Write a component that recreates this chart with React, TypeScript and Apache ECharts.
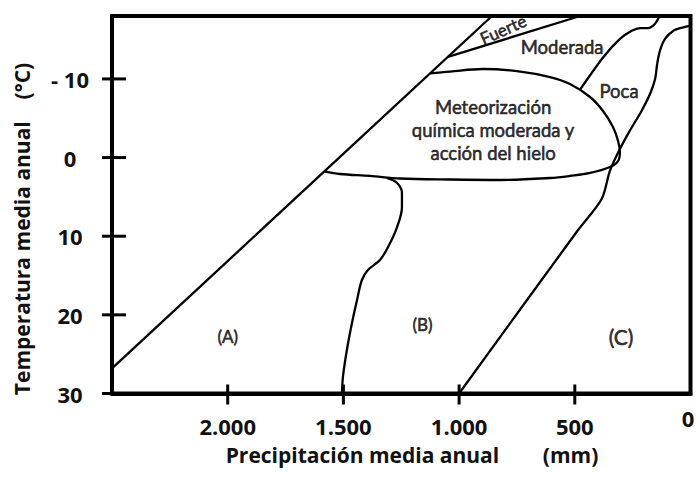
import React, { useEffect, useRef } from "react";
import * as echarts from "echarts";

// ---- Data (precipitation mm, temperature °C) ----
const xMin = 0;
const xMax = 2500;
const yMin = -18;
const yMax = 30;
const xTickValues = [2000, 1500, 1000, 500, 0];
const xTickLabels = ["2.000", "1.500", "1.000", "500", "0"];
const xTickMarks = [2000, 1500, 1000, 500];
const yTickValues = [-10, 0, 10, 20, 30];
const yTickLabels = ["- 10", "0", "10", "20", "30"];

const diagonalLine = [
  [2500, 26.8],
  [858, -18],
];
const fuerteLine = [
  [1048, -12.8],
  [477, -18],
];
const loopCurve = [
  [1126, -10.7],
  [1039, -10.94],
  [897, -11.26],
  [750, -11.0],
  [607, -10.24],
  [521, -9.35],
  [434, -7.7],
  [378, -5.92],
  [335, -3.89],
  [313, -2.11],
  [305, -0.71],
  [313, 0.44],
  [348, 1.2],
  [434, 1.96],
  [521, 2.34],
  [607, 2.6],
  [823, 2.85],
  [1039, 2.79],
  [1255, 2.66],
  [1385, 2.34],
  [1515, 2.09],
  [1580, 1.8],
];
const bCurve = [
  [1312, 2.6],
  [1268, 3.23],
  [1247, 4.5],
  [1247, 6.28],
  [1268, 8.83],
  [1307, 11.37],
  [1342, 13.02],
  [1394, 14.3],
  [1420, 15.57],
  [1441, 18.1],
  [1463, 21.03],
  [1485, 24.47],
  [1502, 27.9],
  [1506, 30],
];
const cCurve = [
  [1000, 30],
  [486, 9.21],
  [384, 5.27],
  [348, 1.67],
  [305, -1.09],
  [262, -3.42],
  [211, -5.96],
  [175, -8.08],
  [153, -9.99],
  [144, -11.9],
  [132, -13.59],
  [110, -15.08],
  [74, -16.13],
  [31, -16.56],
  [0, -16.77],
];
const moderadaPocaCurve = [
  [478, -8.6],
  [377, -12.75],
  [305, -15.08],
  [254, -16.13],
  [218, -16.47],
  [182, -16.47],
  [161, -16.77],
  [144, -17.4],
  [135, -18],
];

const regionNames = [
  "Fuerte",
  "Moderada",
  "Poca",
  "Meteorización\nquímica moderada y\nacción del hielo",
  "(A)",
  "(B)",
  "(C)",
];
const regionX = [810, 555, 309, 853, 2000, 1158, 300];
const regionY = [-16.3, -14.0, -8.5, -3.5, 22.7, 21.2, 22.8];

const xTitle = "Precipitación media anual        (mm)";
const yTitle = "Temperatura media anual    (°C)";

const AXIS_FONT = "Open Sans";
const LABEL_FONT = "Lato";
const INK = "#111";
const W = 697;
const H = 477;

const regionStyles: Record<string, any> = {
  Fuerte: { fontSize: 17, rotate: 24 },
  Moderada: { fontSize: 18.5 },
  Poca: { fontSize: 18.5 },
  "(A)": { fontSize: 17 },
  "(B)": { fontSize: 17 },
  "(C)": { fontSize: 21 },
};

function curveSeries(data: number[][], smooth: number | boolean) {
  return {
    type: "line",
    data,
    smooth,
    symbol: "none",
    showSymbol: false,
    silent: true,
    lineStyle: { color: "#000", width: 2.3 },
    z: 3,
  };
}

const tickFont = {
  fontFamily: AXIS_FONT,
  fontWeight: "bold",
  fontSize: 22,
  color: INK,
};

const titleGraphics = [
  {
    type: "text",
    x: 412,
    y: 455,
    style: {
      text: xTitle,
      font: 'bold 21px "Open Sans"',
      fill: INK,
      textAlign: "center",
      textVerticalAlign: "middle",
    },
  },
  {
    type: "text",
    x: 22,
    y: 229,
    rotation: Math.PI / 2,
    style: {
      text: yTitle,
      font: 'bold 21px "Open Sans"',
      fill: INK,
      textAlign: "center",
      textVerticalAlign: "middle",
    },
  },
];

export default function App() {
  const ref = useRef<HTMLDivElement>(null);
  useEffect(() => {
    if (!ref.current) return;
    document.body.style.margin = "0";
    document.body.style.overflow = "hidden";
    const chart = echarts.init(ref.current, undefined, {
      renderer: "svg",
      width: W,
      height: H,
    });
    const labelData = regionNames.map((n, i) => {
      const st = regionStyles[n] || { fontSize: 18.5, lineHeight: 23 };
      return {
        name: n,
        value: [regionX[i], regionY[i]],
        label: {
          fontSize: st.fontSize,
          rotate: st.rotate || 0,
          lineHeight: st.lineHeight || st.fontSize + 4,
        },
      };
    });
    chart.setOption({
      animation: false,
      backgroundColor: "#fff",
      grid: {
        left: 112,
        top: 16,
        right: 6.5,
        bottom: 83.5,
        show: true,
        borderColor: "#000",
        borderWidth: 4,
        backgroundColor: "transparent",
        containLabel: false,
        outerBoundsMode: "none",
      },
      graphic: titleGraphics,
      xAxis: {
        type: "value",
        min: xMin,
        max: xMax,
        inverse: true,
        position: "bottom",
        splitLine: { show: false },
        axisLine: {
          show: true,
          onZero: false,
          lineStyle: { color: "#000", width: 4 },
        },
        axisTick: { show: false },
        axisLabel: {
          customValues: xTickValues,
          formatter: (v: number) => {
            const i = xTickValues.indexOf(v);
            if (i < 0) return "";
            return v === 0 ? "{z|" + xTickLabels[i] + "}" : xTickLabels[i];
          },
          margin: 32,
          verticalAlign: "middle",
          ...tickFont,
          rich: {
            z: { ...tickFont, padding: [0, 5, 16, 0] },
          },
        },
      },
      yAxis: {
        type: "value",
        min: yMin,
        max: yMax,
        inverse: true,
        position: "left",
        splitLine: { show: false },
        axisLine: {
          show: true,
          onZero: false,
          lineStyle: { color: "#000", width: 4 },
        },
        axisTick: { show: false },
        axisLabel: {
          customValues: yTickValues,
          formatter: (v: number) => {
            const i = yTickValues.indexOf(v);
            return i >= 0 ? yTickLabels[i] : "";
          },
          align: "center",
          margin: 42,
          ...tickFont,
        },
      },
      series: [
        curveSeries(diagonalLine, false),
        curveSeries(fuerteLine, false),
        curveSeries(loopCurve, 0.35),
        curveSeries(bCurve, 0.35),
        curveSeries(cCurve, 0.3),
        curveSeries(moderadaPocaCurve, 0.3),
        {
          type: "scatter",
          data: labelData,
          symbol: "circle",
          symbolSize: 1,
          itemStyle: { color: "transparent" },
          silent: true,
          z: 5,
          label: {
            show: true,
            position: "inside",
            formatter: "{b}",
            fontFamily: LABEL_FONT,
            color: "#000",
            textBorderColor: "#000",
            textBorderWidth: 0.6,
            align: "center",
            verticalAlign: "middle",
          },
        },
      ],
    });

    // Tick marks crossing the axis lines, positioned through the chart's scales.
    const tickGraphics: any[] = [];
    xTickMarks.forEach((v) => {
      const p = chart.convertToPixel({ gridIndex: 0 }, [v, yMax]) as number[];
      if (!p) return;
      tickGraphics.push({
        type: "line",
        z: 100,
        silent: true,
        shape: { x1: p[0], y1: p[1] + 11, x2: p[0], y2: p[1] - 9 },
        style: { stroke: "#000", lineWidth: 3 },
      });
    });
    yTickValues.forEach((v) => {
      const p = chart.convertToPixel({ gridIndex: 0 }, [xMax, v]) as number[];
      if (!p) return;
      tickGraphics.push({
        type: "line",
        z: 100,
        silent: true,
        shape: { x1: p[0] - 10, y1: p[1], x2: p[0] + 14, y2: p[1] },
        style: { stroke: "#000", lineWidth: 3 },
      });
    });
    chart.setOption({ graphic: [...titleGraphics, ...tickGraphics] });

    return () => chart.dispose();
  }, []);
  return (
    <div
      ref={ref}
      style={{ position: "absolute", left: 0, top: 0, width: W, height: H }}
    />
  );
}
